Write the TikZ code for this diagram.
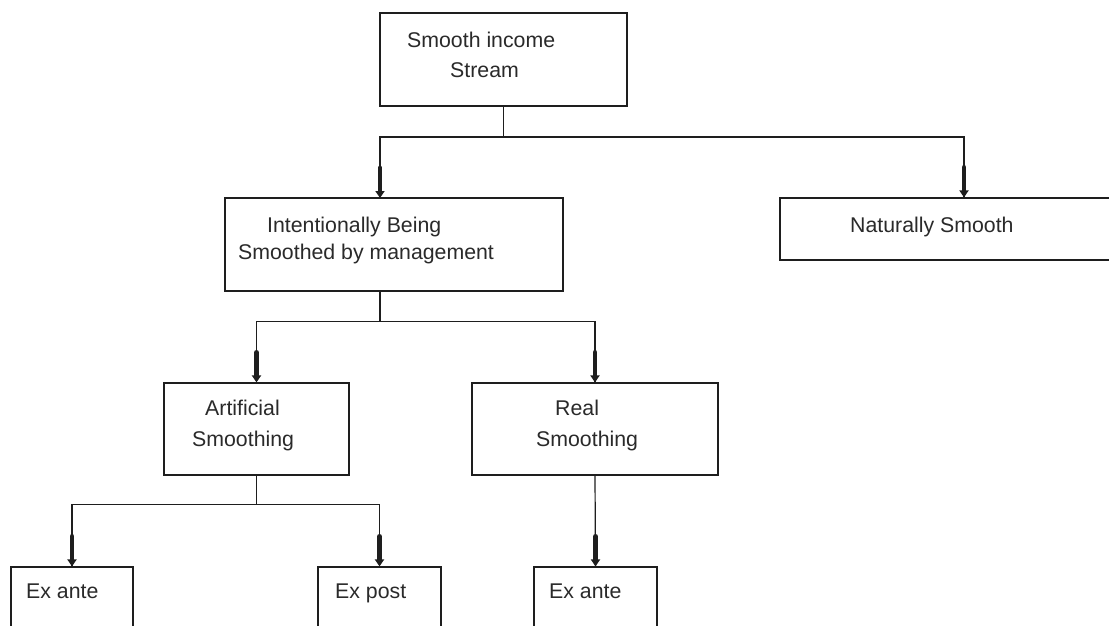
\documentclass[tikz,border=0pt]{standalone}
\usepackage{fontspec}
\setmainfont{Liberation Sans}
\usetikzlibrary{arrows.meta}
\definecolor{linec}{HTML}{1E1E1E}
\definecolor{textc}{HTML}{2A2A2A}
\begin{document}
\begin{tikzpicture}[x=1pt,y=-1pt,
  box/.style={draw=linec, line width=1.2pt, inner sep=0pt, fill=white},
  txt/.style={inner sep=0pt, text=textc, font=\fontsize{21.3}{25}\selectfont},
  conn/.style={draw=linec, line width=1.2pt},
  heavy/.style={draw=linec, line width=4.8pt, line cap=round, -{Triangle[width=9pt,length=7pt]}}]
\useasboundingbox (0,0) rectangle (1109,625);
\fill[white] (0,0) rectangle (1109,625);
\clip (0,0) rectangle (1109,625);
% boxes
\node[box, minimum width=247pt, minimum height=93pt] (top) at (503.5,59.5) {};
\node[box, minimum width=338pt, minimum height=93pt] (b2) at (394,244.5) {};
\node[box, minimum width=368pt, minimum height=62pt] (nat) at (964,229) {};
\node[box, minimum width=185pt, minimum height=92pt] (art) at (256.5,429) {};
\node[box, minimum width=246pt, minimum height=92pt] (real) at (595,429) {};
\node[box, minimum width=122pt, minimum height=93pt] (exa) at (72,613.5) {};
\node[box, minimum width=123pt, minimum height=93pt] (exp) at (379.5,613.5) {};
\node[box, minimum width=123pt, minimum height=93pt] (exb) at (595.5,613.5) {};
% texts
\node[txt, anchor=base west] (t1) at (407,47) {Smooth income};
\node[txt, anchor=base west] (t2) at (450,77) {Stream};
\node[txt, anchor=base west] (t3) at (267,232) {Intentionally Being};
\node[txt, anchor=base west] (t4) at (238,259) {Smoothed by management};
\node[txt, anchor=base west] (t5) at (850,232) {Naturally Smooth};
\node[txt, anchor=base west] (t6) at (205,415) {Artificial};
\node[txt, anchor=base west] (t7) at (192,446) {Smoothing};
\node[txt, anchor=base west] (t8) at (555,415) {Real};
\node[txt, anchor=base west] (t9) at (536,446) {Smoothing};
\node[txt, anchor=base west] (t10) at (26,598) {Ex ante};
\node[txt, anchor=base west] (t11) at (335,598) {Ex post};
\node[txt, anchor=base west] (t12) at (549,598) {Ex ante};
% junction coordinates
\coordinate (b2in) at (380,198);
\coordinate (b2out) at (380,291);
\coordinate (j1) at (503.5,137);
\coordinate (j2) at (380,322);
\coordinate (j3) at (256.5,505);
% connectors
\draw[conn] (top.south) -- (j1);
\draw[conn] (b2in) -- ++(0,-61) -| (nat.north);
\draw[conn] (b2out) -- (j2);
\draw[conn] (art.north) -- ++(0,-61) -| (real.north);
\draw[conn] (art.south) -- (j3);
\draw[conn] (exa.north) -- ++(0,-62) -| (exp.north);
\draw[conn] (real.south) -- (exb.north);
% heavy arrow ends
\draw[heavy] ([yshift=30pt]b2in) -- (b2in);
\draw[heavy] ([yshift=30pt]nat.north) -- (nat.north);
\draw[heavy] ([yshift=30pt]art.north) -- (art.north);
\draw[heavy] ([yshift=30pt]real.north) -- (real.north);
\draw[heavy] ([yshift=30pt]exa.north) -- (exa.north);
\draw[heavy] ([yshift=30pt]exp.north) -- (exp.north);
\draw[heavy] ([yshift=30pt]exb.north) -- (exb.north);
\end{tikzpicture}
\end{document}
